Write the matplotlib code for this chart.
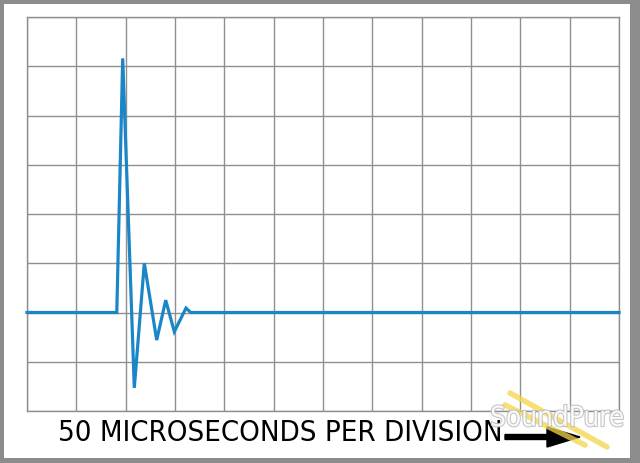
#! /usr/bin/env python3

import matplotlib
matplotlib.use('Agg')
import matplotlib.pyplot as plt
from matplotlib.patches import Rectangle, FancyArrow
import matplotlib.patheffects as pe

# signal trace, in grid divisions (x: 12 divisions, y: 8 divisions)
time_div = [0.0, 1.82, 1.94, 2.175, 2.378, 2.629, 2.812, 2.986, 3.223, 3.318, 12.0]
amp_div = [2.0, 2.0, 7.16, 0.47, 3.0, 1.44, 2.25, 1.61, 2.09, 2.0, 2.0]

n_xdiv = 12
n_ydiv = 8
caption = '50 MICROSECONDS PER DIVISION'

line_color = '#1a86c8'
grid_color = '#8f8f8f'

fig = plt.figure(figsize=(6.4, 4.63), dpi=100)
fig.patch.set_facecolor('#8c8c8c')
fig.patches.append(Rectangle((4 / 640, 5 / 463), 626 / 640, 454 / 463,
                             transform=fig.transFigure, facecolor='white',
                             edgecolor='none', zorder=-5))

ax = fig.add_axes([27 / 640, 52 / 463, 592 / 640, 394 / 463])
ax.set_facecolor('white')
ax.set_xlim(0, n_xdiv)
ax.set_ylim(0, n_ydiv)
ax.set_xticks(range(n_xdiv + 1))
ax.set_yticks(range(n_ydiv + 1))
ax.grid(True, color=grid_color, linewidth=1.0)
ax.tick_params(length=0, labelbottom=False, labelleft=False)
for s in ax.spines.values():
    s.set_color(grid_color)
    s.set_linewidth(1.0)

ax.plot(time_div, amp_div, '-', color=line_color, linewidth=2.3,
        solid_joinstyle='miter', clip_on=False, zorder=3)

fig.text(58 / 640, (463 - 441) / 463, caption, fontsize=21,
         family='DejaVu Sans', stretch='condensed',
         ha='left', va='baseline', color='black')

fig.patches.append(FancyArrow(505 / 640, (463 - 437) / 463, 75 / 640, 0,
                              width=5 / 463, head_width=20 / 463,
                              head_length=33 / 640, length_includes_head=True,
                              transform=fig.transFigure, color='black'))

# SoundPure watermark
for (x0, y0, x1, y1) in [(510, 393, 607, 447), (505, 405, 585, 445)]:
    fig.lines.append(plt.Line2D([x0 / 640, x1 / 640],
                                [(463 - y0) / 463, (463 - y1) / 463],
                                transform=fig.transFigure, color='#f5d54a',
                                alpha=0.75, linewidth=4, solid_capstyle='round'))
fig.text(557 / 640, (463 - 418) / 463, 'SoundPure', fontsize=20,
         family='DejaVu Sans', stretch='condensed',
         ha='center', va='center', color='white', alpha=0.9,
         path_effects=[pe.withStroke(linewidth=1.5, foreground='#bdbdbd')])

plt.savefig('out.png', dpi=100, facecolor=fig.get_facecolor())
